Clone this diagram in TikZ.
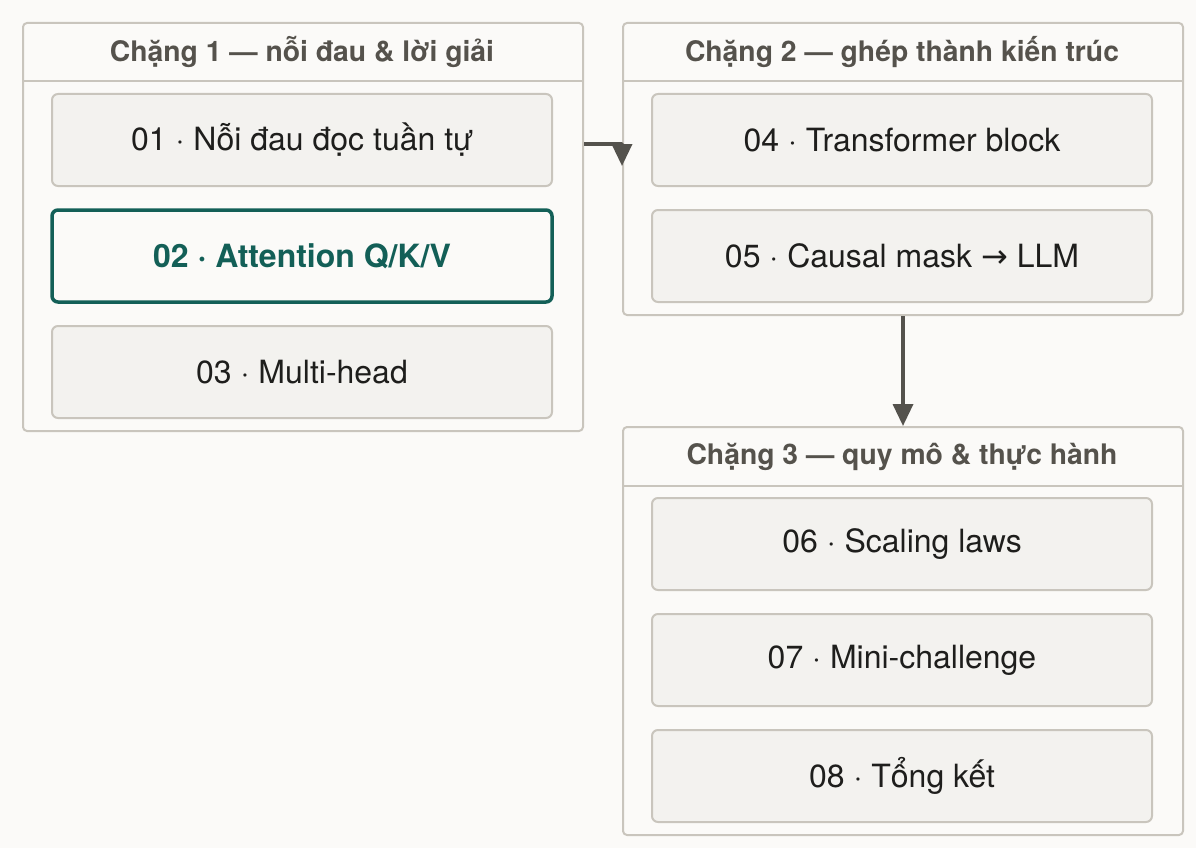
\documentclass[tikz,border=0pt]{standalone}
\usepackage{fontspec}
\setmainfont{TeX Gyre Heros}
\newfontfamily\arrowfont{DejaVu Sans}
\usetikzlibrary{arrows.meta,positioning}
\definecolor{bgpaper}{HTML}{FBFAF8}
\definecolor{lineg}{HTML}{C9C5BD}
\definecolor{boxg}{HTML}{F3F2EF}
\definecolor{titleg}{HTML}{55524C}
\definecolor{textg}{HTML}{1E1E1C}
\definecolor{tealg}{HTML}{135F57}
\definecolor{arrowg}{HTML}{54524D}
\begin{document}
\begin{tikzpicture}[x=1pt,y=-1pt,line join=round,
	cluster/.style={draw=lineg,fill=bgpaper,line width=2pt,rounded corners=4pt,minimum width=560pt,anchor=north west,inner sep=0pt},
	ctitle/.style={font=\fontsize{28.3}{33}\selectfont\bfseries,text=titleg},
	stage/.style={draw=lineg,fill=boxg,line width=2pt,rounded corners=6pt,minimum width=500pt,minimum height=92pt,font=\fontsize{32}{38}\selectfont,text=textg},
	focus/.style={stage,draw=tealg,fill=bgpaper,line width=3.5pt,text=tealg,font=\fontsize{32}{38}\selectfont\bfseries},
	flow/.style={draw=arrowg,line width=3.5pt,-{Triangle[width=20pt,length=22pt]}}]
	\useasboundingbox (0,0) rectangle (1196,848);
	\fill[bgpaper] (0,0) rectangle (1196,848);
	% clusters
	\node[cluster,minimum height=408pt] (c1) at (22,22) {};
	\node[cluster,minimum height=292pt] (c2) at (622,22) {};
	\node[cluster,minimum height=408pt] (c3) at (622,426) {};
	\draw[lineg,line width=2pt] (c1.west |- 0,81) -- (c1.east |- 0,81);
	\draw[lineg,line width=2pt] (c2.west |- 0,81) -- (c2.east |- 0,81);
	\draw[lineg,line width=2pt] (c3.west |- 0,486) -- (c3.east |- 0,486);
	\node[ctitle] (t1) at (302,52) {Chặng 1 — nỗi đau \& lời giải};
	\node[ctitle] (t2) at (902,52) {Chặng 2 — ghép thành kiến trúc};
	\node[ctitle] (t3) at (902,457) {Chặng 3 — quy mô \& thực hành};
	% stages
	\node[stage] (s01) at (302,140) {01 · Nỗi đau đọc tuần tự};
	\node[focus] (s02) at (302,256) {02 · Attention Q/K/V};
	\node[stage] (s03) at (302,372) {03 · Multi-head};
	\node[stage] (s04) at (902,140) {04 · Transformer block};
	\node[stage] (s05) at (902,256) {05 · Causal mask {\arrowfont →} LLM};
	\node[stage] (s06) at (902,544) {06 · Scaling laws};
	\node[stage] (s07) at (902,660) {07 · Mini-challenge};
	\node[stage] (s08) at (902,776) {08 · Tổng kết};
	% links between clusters
	\coordinate (e1) at (c2.west |- 0,166);
	\draw[flow] (c1.east |- 0,144) -| (e1);
	\draw[flow] (c2.south) -- (c3.north);
\end{tikzpicture}
\end{document}
